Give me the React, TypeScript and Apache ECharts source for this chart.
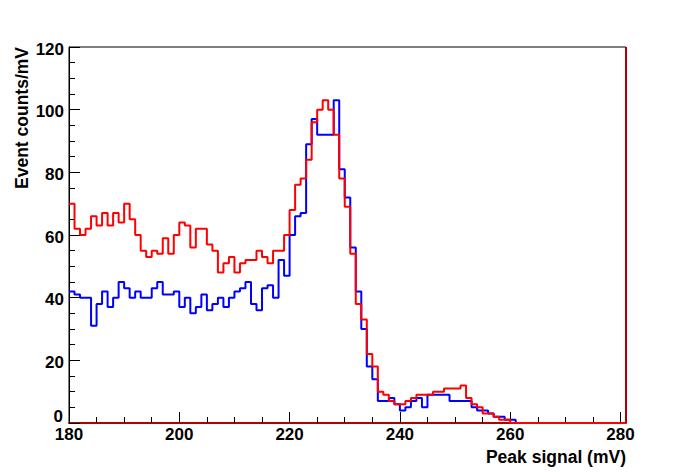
import React, { useEffect, useRef } from "react";
import * as echarts from "echarts";

// Histogram bins: 1 mV wide, starting at 180 mV
const binStart = 180;
const binWidth = 1;
const yTickMax = 120;
const yMinLabel = "0";

// Red histogram counts per 1 mV bin (180 .. 280)
const redCounts = [
  70, 62, 60, 62, 66, 63, 67, 63, 67, 64,
  70, 65, 60, 55, 53, 55, 54, 59, 54, 60,
  64, 63, 56, 62, 62, 57, 55, 48, 51, 53,
  48, 51, 52, 52, 55, 53, 51, 55, 55, 60,
  68, 76, 78, 84, 96, 100, 103, 100, 92, 78,
  69, 54, 38, 33, 22, 18, 10, 9, 7, 6,
  6, 7, 8, 9, 9, 9, 10, 10, 11, 11,
  11, 12, 8, 6, 5, 3, 3, 2, 1, 1,
  0, 0, 0, 0, 0, 0, 0, 0, 0, 0,
  0, 0, 0, 0, 0, 0, 0, 0, 0, 0,
  0,
];

// Blue histogram counts per 1 mV bin (180 .. 280)
const blueCounts = [
  42, 41, 40, 40, 31, 38, 42, 37, 40, 45,
  43, 40, 42, 40, 40, 43, 45, 41, 41, 42,
  37, 40, 35, 37, 41, 36, 38, 40, 37, 40,
  42, 43, 45, 38, 36, 43, 44, 40, 52, 47,
  60, 66, 67, 89, 97, 92, 92, 92, 103, 81,
  72, 56, 42, 30, 18, 14, 7, 7, 8, 6,
  4, 5, 7, 8, 5, 9, 9, 9, 9, 7,
  7, 7, 7, 5, 4, 4, 3, 2, 2, 1,
  1, 0, 0, 0, 0, 0, 0, 0, 0, 0,
  0, 0, 0, 0, 0, 0, 0, 0, 0, 0,
  0,
];

const xTitle = "Peak signal (mV)";
const yTitle = "Event counts/mV";

const FONT = "'Liberation Sans', Arial, Helvetica, sans-serif";

function toSteps(counts: number[]): number[][] {
  const pts = counts.map((c, i) => [binStart + i * binWidth, c]);
  pts.push([binStart + counts.length * binWidth, counts[counts.length - 1]]);
  return pts;
}

export default function App() {
  const ref = useRef<HTMLDivElement>(null);

  useEffect(() => {
    if (!ref.current) return;
    const chart = echarts.init(ref.current, null, { renderer: "svg" });
    const xMax = binStart + redCounts.length * binWidth;
    const gl = 69, gt = 47, gw = 557, gh = 376;

    const labelStyle = {
      fontSize: 17,
      fontWeight: "bold" as const,
      fontFamily: FONT,
      color: "#000",
    };

    chart.setOption({
      animation: false,
      backgroundColor: "#fff",
      grid: {
        left: gl,
        top: gt,
        width: gw,
        height: gh,
        show: true,
        borderColor: "#000",
        borderWidth: 1,
        backgroundColor: "transparent",
      },
      xAxis: [
        {
          type: "value",
          min: binStart,
          max: xMax,
          interval: 20,
          position: "bottom",
          axisLine: { show: true, onZero: false, lineStyle: { color: "#b00000", width: 2 } },
          axisTick: { show: true, inside: true, length: 11, lineStyle: { color: "#000", width: 1 } },
          axisLabel: { ...labelStyle, margin: 3, showMaxLabel: false },
          splitLine: { show: false },
        },
        {
          type: "value",
          min: binStart,
          max: xMax,
          interval: 5,
          position: "bottom",
          axisLine: { show: false },
          axisTick: { show: true, inside: true, length: 6, lineStyle: { color: "#000", width: 1 } },
          axisLabel: { show: false },
          splitLine: { show: false },
        },
      ],
      yAxis: {
        type: "value",
        min: 0,
        max: yTickMax,
        interval: 20,
        axisLine: { show: true, lineStyle: { color: "#000", width: 1 } },
        axisTick: { show: true, inside: true, length: 11, lineStyle: { color: "#000" } },
        minorTick: { show: true, splitNumber: 4, length: 6, lineStyle: { color: "#000" } },
        axisLabel: {
          ...labelStyle,
          margin: 5,
          showMinLabel: false,
          formatter: (v: number) => `{n|${v}}`,
          rich: {
            n: { ...labelStyle, padding: [4, 0, 0, 0] },
          },
        },
        splitLine: { show: false },
        minorSplitLine: { show: false },
      },
      series: [
        {
          type: "line",
          step: "end",
          xAxisIndex: 0,
          showSymbol: false,
          symbol: "none",
          data: toSteps(blueCounts),
          lineStyle: { color: "#0000ff", width: 2 },
          itemStyle: { color: "#0000ff" },
          z: 3,
        },
        {
          type: "line",
          step: "end",
          xAxisIndex: 0,
          showSymbol: false,
          symbol: "none",
          data: toSteps(redCounts),
          lineStyle: { color: "#ff0000", width: 2 },
          itemStyle: { color: "#ff0000" },
          z: 4,
        },
      ],
      graphic: [
        {
          type: "line",
          shape: { x1: gl + gw, y1: gt, x2: gl + gw, y2: gt + gh },
          style: { stroke: "#b00000", lineWidth: 2 },
          z: 10,
        },
        {
          type: "text",
          x: gl - 6,
          y: gt + gh - 7,
          style: {
            text: yMinLabel,
            fill: "#000",
            font: `bold 17px ${FONT}`,
            align: "right",
            verticalAlign: "middle",
            textAlign: "right",
            textVerticalAlign: "middle",
          },
        },
        {
          type: "text",
          x: gl + gw,
          y: 457,
          style: {
            text: xTitle,
            fill: "#000",
            font: `bold 17.5px ${FONT}`,
            align: "right",
            verticalAlign: "middle",
            textAlign: "right",
            textVerticalAlign: "middle",
          },
        },
        {
          type: "text",
          x: 22,
          y: gt,
          rotation: Math.PI / 2,
          style: {
            text: yTitle,
            fill: "#000",
            font: `bold 17.5px ${FONT}`,
            align: "right",
            verticalAlign: "middle",
            textAlign: "right",
            textVerticalAlign: "middle",
          },
        },
      ],
    });

    return () => chart.dispose();
  }, []);

  return (
    <div
      ref={ref}
      style={{ position: "fixed", left: 0, top: 0, width: 696, height: 472, background: "#fff" }}
    />
  );
}
